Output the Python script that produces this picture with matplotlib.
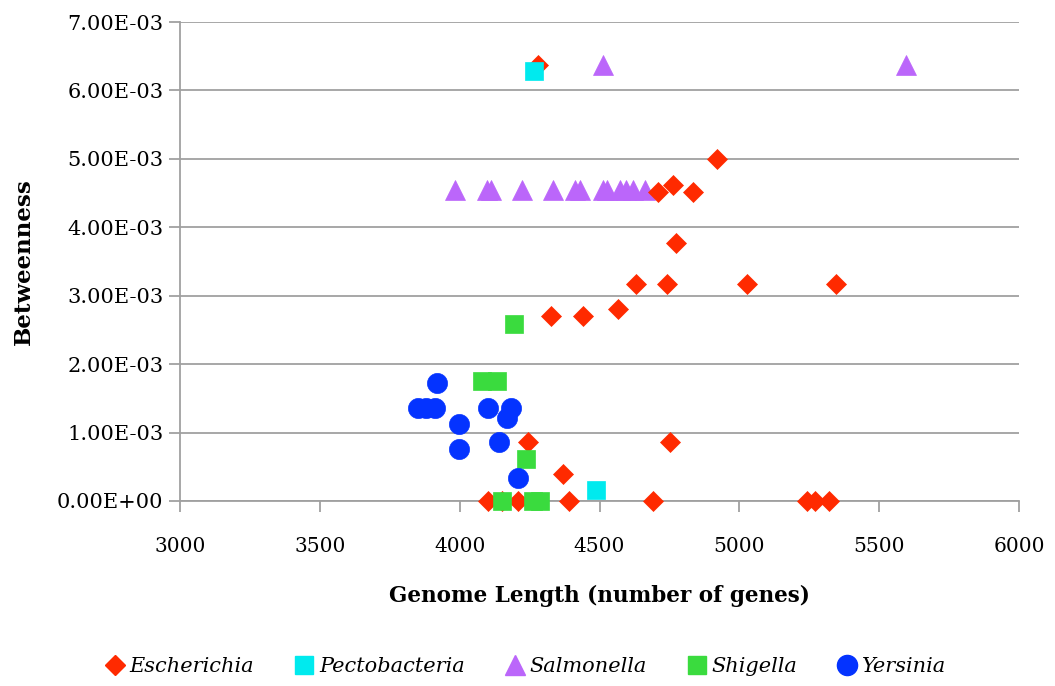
import matplotlib
matplotlib.use("Agg")
import matplotlib.pyplot as plt
from matplotlib.ticker import FuncFormatter, MultipleLocator
from matplotlib.lines import Line2D

# Genome length (number of genes) and betweenness (x 1e-3) per genus
esch_x = [4280, 4920, 4709, 4763, 4834, 4773, 4630, 4741, 5027, 5345, 4566, 4441,
          4326, 4244, 4752, 4369, 4101, 4150, 4208, 4391, 4691, 5242, 5270, 5320]
esch_y = [6.37, 5.00, 4.52, 4.62, 4.52, 3.77, 3.17, 3.17, 3.17, 3.17, 2.81, 2.70,
          2.70, 0.86, 0.86, 0.39, 0.0, 0.0, 0.0, 0.0, 0.0, 0.0, 0.0, 0.0]

pecto_x = [4266, 4487]
pecto_y = [6.28, 0.16]

salm_x = [4512, 5596, 3983, 4098, 4112, 4223, 4334, 4412, 4430, 4512, 4527, 4573,
          4595, 4620, 4663]
salm_y = [6.37, 6.37, 4.55, 4.55, 4.55, 4.55, 4.55, 4.55, 4.55, 4.55, 4.55, 4.55,
          4.55, 4.55, 4.55]

shig_x = [4194, 4080, 4133, 4237, 4151, 4262, 4287]
shig_y = [2.59, 1.75, 1.75, 0.61, 0.0, 0.0, 0.0]

yers_x = [3919, 3851, 3880, 3912, 3998, 3998, 4101, 4183, 4169, 4140, 4208]
yers_y = [1.72, 1.36, 1.36, 1.36, 1.13, 0.76, 1.36, 1.36, 1.22, 0.86, 0.34]

genera = ["Escherichia", "Pectobacteria", "Salmonella", "Shigella", "Yersinia"]

plt.rcParams["font.family"] = ["DejaVu Serif"]

fig = plt.figure(figsize=(10.55, 6.86), dpi=100)
ax = fig.add_axes([180 / 1055, 1 - 501 / 686, (1019 - 180) / 1055, (501 - 22) / 686])

scale = 1e-3
series = [
    (salm_x, salm_y, "^", 14.5, "#BB66FA", 3),
    (esch_x, esch_y, "D", 10.0, "#FF2A00", 4),
    (pecto_x, pecto_y, "s", 13.0, "#00EAEE", 5),
    (shig_x, shig_y, "s", 13.0, "#3ADB3E", 6),
    (yers_x, yers_y, "o", 14.5, "#0433FF", 7),
]
for xs, ys, m, ms, c, z in series:
    ax.plot(xs, [v * scale for v in ys], linestyle="none", marker=m, markersize=ms,
            color=c, markeredgecolor=c, markeredgewidth=0.5, zorder=z, clip_on=False)

ax.set_xlim(3000, 6000)
ax.set_ylim(0, 7e-3)
ax.xaxis.set_major_locator(MultipleLocator(500))
ax.yaxis.set_major_locator(MultipleLocator(1e-3))
ax.yaxis.set_major_formatter(FuncFormatter(lambda v, p: "%.2E" % v))

grid_c = "#A0A0A0"
ax.grid(axis="y", color=grid_c, linewidth=1.3, zorder=0)
ax.set_axisbelow(True)
for s in ["top", "right"]:
    ax.spines[s].set_visible(False)
for s in ["left", "bottom"]:
    ax.spines[s].set_color(grid_c)
    ax.spines[s].set_linewidth(1.3)
ax.tick_params(axis="both", colors=grid_c, width=1.3, length=8, labelsize=14.5,
               labelcolor="black")
ax.tick_params(axis="y", labelsize=15, pad=4)
ax.tick_params(axis="x", pad=18)

ax.set_xlabel("Genome Length (number of genes)", fontsize=15.5, fontweight="bold",
              labelpad=21)
ax.set_ylabel("Betweenness", fontsize=16.5, fontweight="bold", labelpad=16)

handles = []
for (xs, ys, m, ms, c, z), name in zip(
        [series[1], series[2], series[0], series[3], series[4]], genera):
    handles.append(Line2D([], [], linestyle="none", marker=m, markersize=ms,
                          color=c, markeredgecolor=c))
fig.legend(handles, genera, loc="center", bbox_to_anchor=(0.497, 1 - 667 / 686),
           ncol=5, frameon=False, prop={"style": "italic", "size": 15},
           handletextpad=0.1, columnspacing=1.8, handlelength=1.2)

fig.savefig("out.png", dpi=100)
